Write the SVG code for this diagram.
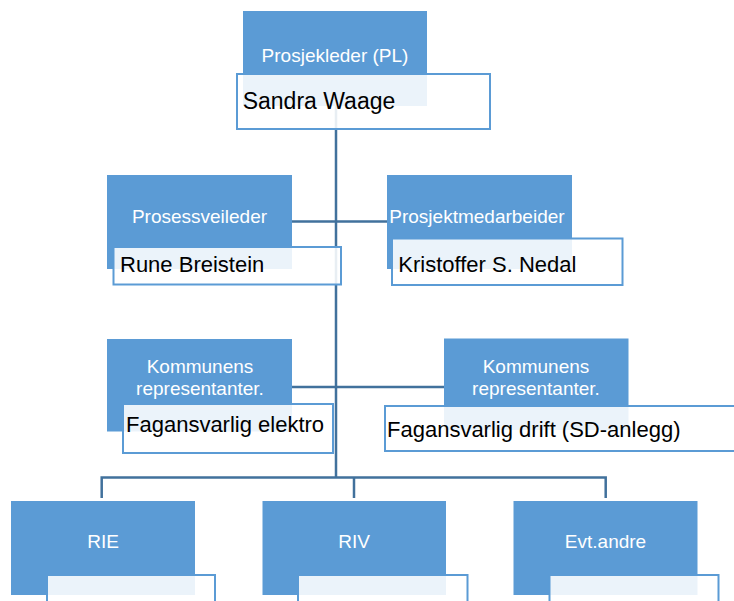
<svg xmlns="http://www.w3.org/2000/svg" width="734" height="601" viewBox="0 0 734 601">
<style>
.hd{fill:#5B9BD5;}
.nm{fill:#FFFFFF;fill-opacity:0.88;stroke:#5B9BD5;stroke-width:2;}
.ht{font-family:"Liberation Sans",Arial,sans-serif;font-size:19px;fill:#FFFFFF;text-anchor:middle;}
.nt{font-family:"Liberation Sans",Arial,sans-serif;font-size:22px;fill:#000000;}
.cn{fill:none;stroke:#41719C;stroke-width:2.5;}
</style>
<rect width="734" height="601" fill="#FFFFFF"/>
<g id="connectors" class="cn">
<path d="M336,106 V477.5"/>
<path d="M292,221.5 H387"/>
<path d="M292,387 H444"/>
<path d="M101.7,498 V477.5 H605.7 V498"/>
<path d="M354,477.5 V498"/>
</g>
<g id="pl">
<rect class="hd" x="243" y="11" width="184" height="95"/>
<text class="ht" x="335" y="61.5">Prosjekleder (PL)</text>
<rect class="nm" x="237" y="74" width="253" height="55"/>
<text class="nt" x="242.7" y="109" style="font-size:23px">Sandra Waage</text>
</g>
<g id="prosessveileder">
<rect class="hd" x="107" y="175" width="185" height="94"/>
<text class="ht" x="199.5" y="223">Prosessveileder</text>
<rect class="nm" x="113.5" y="247" width="227.5" height="37.5"/>
<text class="nt" x="120" y="272">Rune Breistein</text>
</g>
<g id="prosjektmedarbeider">
<rect class="hd" x="387" y="175" width="185" height="94"/>
<text class="ht" x="389.3" y="223" style="text-anchor:start">Prosjektmedarbeider</text>
<rect class="nm" x="392" y="238.5" width="230.5" height="46.5"/>
<text class="nt" x="398.3" y="272">Kristoffer S. Nedal</text>
</g>
<g id="kommunens-1">
<rect class="hd" x="107" y="339" width="185" height="92.5"/>
<text class="ht" x="200" y="373">Kommunens</text>
<text class="ht" x="200" y="395">representanter.</text>
<rect class="nm" x="123" y="404" width="210" height="49"/>
<text class="nt" x="126" y="432">Fagansvarlig elektro</text>
</g>
<g id="kommunens-2">
<rect class="hd" x="444" y="338.5" width="184.5" height="91.5"/>
<text class="ht" x="536" y="373">Kommunens</text>
<text class="ht" x="536" y="395">representanter.</text>
<rect class="nm" x="385" y="406" width="360" height="45"/>
<text class="nt" x="387" y="437">Fagansvarlig drift (SD-anlegg)</text>
</g>
<g id="rie">
<rect class="hd" x="11" y="501" width="184" height="94"/>
<text class="ht" x="103" y="548">RIE</text>
<rect class="nm" x="47" y="575" width="168" height="45"/>
</g>
<g id="riv">
<rect class="hd" x="262.5" y="501" width="183.5" height="94"/>
<text class="ht" x="354" y="548">RIV</text>
<rect class="nm" x="298" y="575" width="169.5" height="45"/>
</g>
<g id="evt-andre">
<rect class="hd" x="513.5" y="501" width="184" height="94"/>
<text class="ht" x="605.5" y="548">Evt.andre</text>
<rect class="nm" x="549.5" y="575" width="169" height="45"/>
</g>
</svg>
